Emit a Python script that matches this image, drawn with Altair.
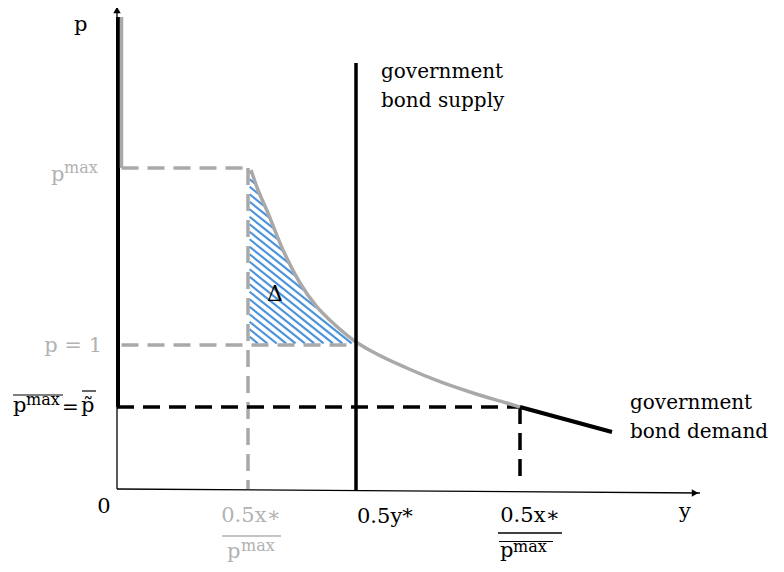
import altair as alt
import pandas as pd
import numpy as np

# ---------------- values (origin of the axes = 0,0) -------------
curve_x = [134, 141, 149.7, 166, 183, 199.7, 216, 239, 256, 289.7, 323, 356, 389.7, 403]
curve_y = [319, 299, 279, 239, 206, 182.3, 166, 147, 137, 121, 107.3, 96, 86.0, 82]

p_top = 472        # top of the vertical demand part
p_max = 321        # p^max
p_one = 144        # p = 1
p_tilde = 82       # \bar{p^max} = \tilde p
x_low = 131        # 0.5x*/p^max
x_supply = 239     # 0.5y*
x_high = 403       # 0.5x*/\bar{p^max}
supply_top = 426
demand_end_x = 495
demand_end_y = 57
gray_offset = 4.5
x_axis_end = 583
x_axis_end_y = -4
y_axis_end = 484
black_dash_bottom = 11

BLACK = "#000000"
GRAY = "#aaa9a9"
GRAY_TXT = "#b2b2b2"
BLUE = "#4d94db"
FONT = "DejaVu Serif"

# ---------------- segments ----------------
solid = pd.DataFrame([
    # x, y, x2, y2, color, width
    (0, 0, x_axis_end, x_axis_end_y, BLACK, 1.3),
    (0, 0, 0, y_axis_end, BLACK, 1.3),
    (1, p_top, 1, p_tilde, BLACK, 4),
    (gray_offset, p_top, gray_offset, p_max, GRAY, 3.5),
    (x_supply, supply_top, x_supply, -2, BLACK, 3.5),
    (x_high, p_tilde, demand_end_x, demand_end_y, BLACK, 4),
    # fraction bars / overlines of labels
    (105, -47, 164, -47, GRAY_TXT, 1.3),
    (381, -44, 445, -44, BLACK, 1.3),
    (382, -52.5, 436, -52.5, BLACK, 1.2),
    (-104, 94, -54, 94, BLACK, 1.2),
    (-35, 98, -21, 98, BLACK, 1.2),
], columns=["x", "y", "x2", "y2", "color", "w"])

dashed = pd.DataFrame([
    (gray_offset, p_max, x_low, p_max, GRAY),
    (x_low, p_max, x_low, 0, GRAY),
    (gray_offset, p_one, x_supply, p_one, GRAY),
    (0, p_tilde, x_high, p_tilde, BLACK),
    (x_high, p_tilde, x_high, black_dash_bottom, BLACK),
], columns=["x", "y", "x2", "y2", "color"])

curve = pd.DataFrame({"x": curve_x, "y": curve_y})

# ---------------- hatching of the Delta area (derived from the curve) ----------------
slope = 0.8
spacing = 7.5
bx = np.array([x_low] + curve_x, dtype=float)
by = np.array([p_max] + curve_y, dtype=float)
hatch_rows = []
xs = np.linspace(x_low, x_supply + 10, 1500)
top = np.interp(xs, bx, by)
c = p_one + slope * x_low + 2
while c < p_max + slope * x_low + 40:
    ys = c - slope * xs
    inside = (ys >= p_one + 1.5) & (ys <= top - 1.5) & (xs >= x_low + 1.5)
    idx = np.where(inside)[0]
    if len(idx):
        runs = np.split(idx, np.where(np.diff(idx) != 1)[0] + 1)
        for r in runs:
            if len(r) > 1:
                hatch_rows.append((xs[r[0]], ys[r[0]], xs[r[-1]], ys[r[-1]]))
    c += spacing
hatch = pd.DataFrame(hatch_rows, columns=["x", "y", "x2", "y2"])

# ---------------- texts ----------------
texts_left = pd.DataFrame([
    ("p", -43, 458, BLACK, 21),
    ("p", -66, 308, GRAY_TXT, 21),
    ("max", -53, 316, GRAY_TXT, 16),
    ("p", -104, 77, BLACK, 21),
    ("max", -91, 84, BLACK, 16),
    ("=", -55, 75, BLACK, 20),
    ("p\u0303", -36, 77, BLACK, 21),
    ("p", 110, -69, GRAY_TXT, 21),
    ("max", 124, -62, GRAY_TXT, 16),
    ("0.5y*", 240, -34, BLACK, 21),
    ("p", 383, -68, BLACK, 21),
    ("max", 396, -63, BLACK, 16),
    ("government", 264, 411, BLACK, 20),
    ("bond supply", 264, 382, BLACK, 20),
    ("government", 513, 80, BLACK, 20),
    ("bond demand", 513, 51, BLACK, 20),
], columns=["text", "x", "y", "color", "size"])

texts_center = pd.DataFrame([
    ("0", -13, -24, BLACK, 21),
    ("0.5x\u2217", 134, -33, GRAY_TXT, 21),
    ("0.5x\u2217", 413, -33, BLACK, 21),
    ("y", 568, -29, BLACK, 21),
    ("\u0394", 158, 188, BLACK, 22),
], columns=["text", "x", "y", "color", "size"])

texts_right = pd.DataFrame([
    ("p = 1", -15, 137, GRAY_TXT, 21),
], columns=["text", "x", "y", "color", "size"])

arrows = pd.DataFrame([
    (0, y_axis_end - 5, "triangle-up"),
    (x_axis_end - 5, x_axis_end_y, "triangle-right"),
], columns=["x", "y", "shape"])

# ---------------- scales ----------------
xs_ = alt.Scale(domain=[0, 583], nice=False, zero=False)
ys_ = alt.Scale(domain=[0, 481], nice=False, zero=False)
X = lambda f="x": alt.X(f"{f}:Q", scale=xs_, axis=None)
Y = lambda f="y": alt.Y(f"{f}:Q", scale=ys_, axis=None)

hatch_layer = alt.Chart(hatch).mark_rule(color=BLUE, strokeWidth=2.2).encode(
    x=X(), y=Y(), x2="x2:Q", y2="y2:Q")

dashed_layer = alt.Chart(dashed).mark_rule(strokeWidth=3.5, strokeDash=[17, 9]).encode(
    x=X(), y=Y(), x2="x2:Q", y2="y2:Q", color=alt.Color("color:N", scale=None))

solid_layer = alt.Chart(solid).mark_rule().encode(
    x=X(), y=Y(), x2="x2:Q", y2="y2:Q",
    color=alt.Color("color:N", scale=None),
    strokeWidth=alt.StrokeWidth("w:Q", scale=None))

curve_layer = alt.Chart(curve).mark_line(color=GRAY, strokeWidth=3.5, interpolate="monotone").encode(
    x=X(), y=Y(), order="x:Q")

arrow_layer = alt.Chart(arrows).mark_point(filled=True, color=BLACK, size=55, opacity=1).encode(
    x=X(), y=Y(), shape=alt.Shape("shape:N", scale=None))


def text_layer(df, align):
    return alt.Chart(df).mark_text(align=align, baseline="alphabetic", font=FONT).encode(
        x=X(), y=Y(), text="text:N",
        color=alt.Color("color:N", scale=None),
        size=alt.Size("size:Q", scale=None))


chart = alt.layer(
    hatch_layer, dashed_layer, curve_layer, solid_layer, arrow_layer,
    text_layer(texts_left, "left"), text_layer(texts_center, "center"), text_layer(texts_right, "right"),
).properties(
    width=583, height=481,
    autosize=alt.AutoSizeParams(type="none"),
    padding={"left": 109, "top": 0, "right": 76, "bottom": 75},
    background="white",
).configure_view(stroke=None).configure_text(font=FONT)

chart.save("out.html", embed_options={"renderer": "svg", "actions": False})
